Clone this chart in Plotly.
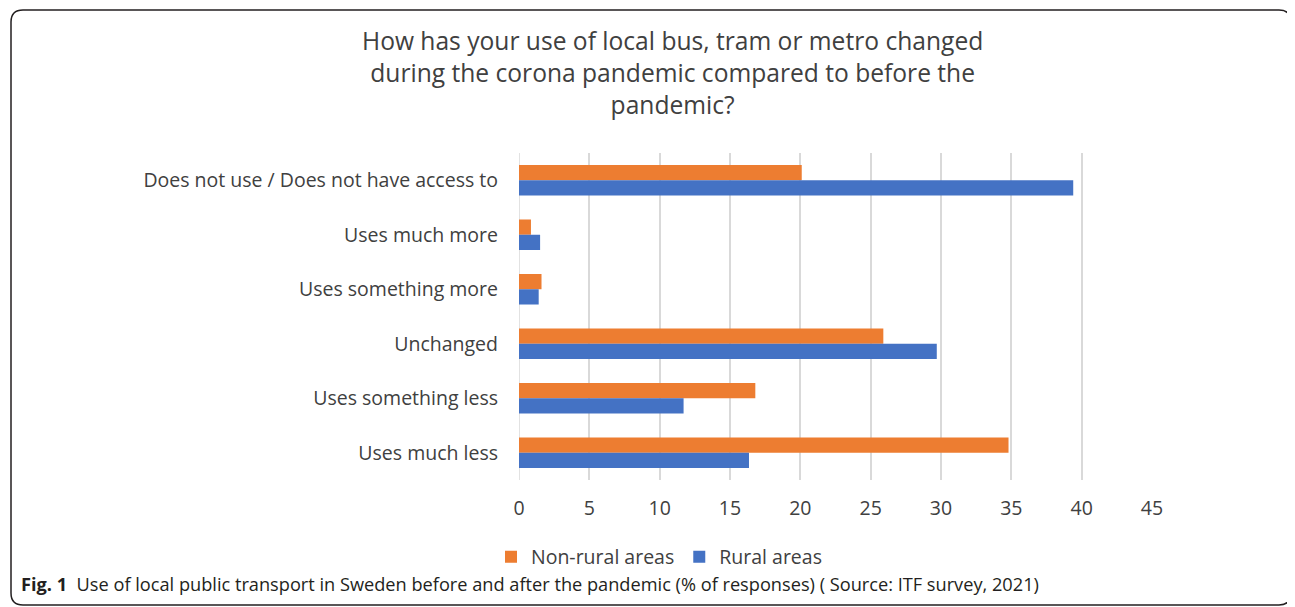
import plotly.graph_objects as go

categories = [
    "Does not use / Does not have access to",
    "Uses much more",
    "Uses something more",
    "Unchanged",
    "Uses something less",
    "Uses much less",
]
non_rural = [20.1, 0.85, 1.6, 25.9, 16.8, 34.8]
rural = [39.4, 1.5, 1.4, 29.7, 11.7, 16.35]
x_ticks = [0, 5, 10, 15, 20, 25, 30, 35, 40, 45]

OFF = 8  # page body margin
FIG_W, FIG_H = 1295 - OFF, 607 - OFF
L, R, T, B = 519 - OFF, 1152 - OFF, 153 - OFF, 480 - OFF
W, H = R - L, B - T


def px2x(px):
    return (px - OFF - L) / W


def py2y(py):
    return (B - (py - OFF)) / H


FONT = "Open Sans"
TXT = "#404040"
FS = 19.5

fig = go.Figure()
fig.add_trace(go.Bar(
    y=categories, x=non_rural, orientation="h", name="Non-rural areas",
    marker=dict(color="#ED7D31", line=dict(width=0)),
))
fig.add_trace(go.Bar(
    y=categories, x=rural, orientation="h", name="Rural areas",
    marker=dict(color="#4472C4", line=dict(width=0)),
))

# rounded border path
x0, x1 = px2x(11), px2x(1291)
y0, y1 = py2y(10), py2y(605)
rx, ry = 12 / W, 12 / H
path = (
    f"M {x0},{y1 + ry} L {x0},{y0 - ry} Q {x0},{y0} {x0 + rx},{y0} "
    f"L {x1 - rx},{y0} Q {x1},{y0} {x1},{y0 - ry} "
    f"L {x1},{y1 + ry} Q {x1},{y1} {x1 - rx},{y1} "
    f"L {x0 + rx},{y1} Q {x0},{y1} {x0},{y1 + ry} Z"
)

fig.update_layout(
    width=FIG_W, height=FIG_H,
    margin=dict(l=L, r=FIG_W - R, t=T, b=FIG_H - B),
    paper_bgcolor="white", plot_bgcolor="white",
    barmode="group", bargap=0.44, bargroupgap=0,
    font=dict(family=FONT, color=TXT, size=FS),
    showlegend=True,
    legend=dict(
        orientation="h", x=px2x(659), xanchor="center", y=py2y(557), yanchor="middle",
        font=dict(family=FONT, size=FS, color=TXT), traceorder="normal",
    ),
    xaxis=dict(
        range=[0, 45], tickvals=x_ticks, showgrid=True, gridcolor="#D9D9D9", gridwidth=1.5,
        zeroline=False, showline=False, ticks="", ticklabelstandoff=14,
        tickfont=dict(family=FONT, size=FS, color=TXT), fixedrange=True,
    ),
    yaxis=dict(
        autorange="reversed", showgrid=False, zeroline=False, showline=False, ticks="",
        ticklabelstandoff=20, tickfont=dict(family=FONT, size=FS, color=TXT),
    ),
    shapes=[
        dict(type="path", xref="paper", yref="paper", path=path,
             line=dict(color="#231F20", width=1.5), fillcolor="rgba(0,0,0,0)", layer="below"),
        dict(type="line", xref="x", yref="paper", x0=0, x1=0, y0=0, y1=1,
             line=dict(color="#D9D9D9", width=1.5), layer="below"),
    ],
    annotations=[
        dict(
            text="How has your use of local bus, tram or metro changed<br>"
                 "during the corona pandemic compared to before the<br>pandemic?",
            xref="paper", yref="paper", x=px2x(672), y=py2y(22), xanchor="center", yanchor="top",
            showarrow=False, align="center",
            font=dict(family=FONT, size=24.6, color=TXT),
        ),
        dict(
            text="<b>Fig. 1</b>  Use of local public transport in Sweden before and after the pandemic "
                 "(% of responses) ( Source: ITF survey, 2021)",
            xref="paper", yref="paper", x=px2x(19), y=py2y(584), xanchor="left", yanchor="middle",
            showarrow=False, align="left",
            font=dict(family="Open Sans", size=18.2, color="#231F20"),
        ),
    ],
)

fig.write_html("out.html")
